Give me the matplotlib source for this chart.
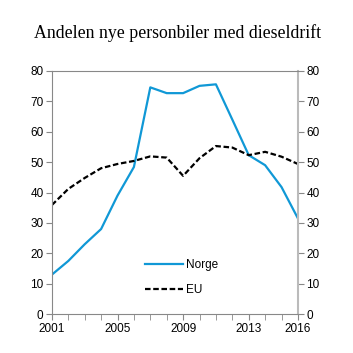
import matplotlib
matplotlib.use("Agg")
import matplotlib.pyplot as plt

years = list(range(2001, 2017))
norge = [13.0, 17.5, 23.0, 28.0, 39.0, 48.4, 74.6, 72.7, 72.7, 75.1, 75.6, 64.0, 52.3, 49.0, 41.8, 31.5]
eu = [35.9, 41.2, 44.8, 48.0, 49.4, 50.4, 51.9, 51.5, 45.5, 51.3, 55.3, 54.8, 52.3, 53.4, 51.8, 49.4]
xticks = [2001, 2005, 2009, 2013, 2016]
yticks = [0, 10, 20, 30, 40, 50, 60, 70, 80]
title = "Andelen nye personbiler med dieseldrift"

fig = plt.figure(figsize=(3.53, 3.53), dpi=100)
ax = fig.add_axes([0.147, 0.110, 0.697, 0.689])
ax.plot(years, norge, color="#1098d6", lw=1.6, label="Norge")
ax.plot(years, eu, color="black", lw=1.6, ls=(0, (2.5, 1.2)), label="EU")
ax.set_xlim(2001, 2016)
ax.set_ylim(0, 80)
ax.set_yticks(yticks)
ax.set_xticks(years, minor=True)
ax.set_xticks(xticks)
ax.tick_params(axis="y", which="both", direction="out", length=4, color="#888888",
               labelsize=8.5, right=True, labelright=True, pad=2)
ax.tick_params(axis="x", which="both", direction="out", length=4, color="#888888",
               labelsize=8.5, pad=2)
for lab in ax.get_xticklabels() + ax.get_yticklabels():
    lab.set_fontfamily("Liberation Sans")
for s in ax.spines.values():
    s.set_color("#888888")
    s.set_linewidth(0.8)
ax.spines["right"].set_color("#bbbbbb")
ax.spines["right"].set_linewidth(1.5)
leg = ax.legend(loc="center", bbox_to_anchor=(0.528, 0.150), frameon=False,
                prop={"family": "Liberation Sans", "size": 8.5}, handlelength=3.2,
                handletextpad=0.3, labelspacing=1.05)
fig.text(0.502, 0.905, title, ha="center", va="center", fontsize=12.8,
         family="Liberation Serif")
fig.savefig("out.png", dpi=100)
